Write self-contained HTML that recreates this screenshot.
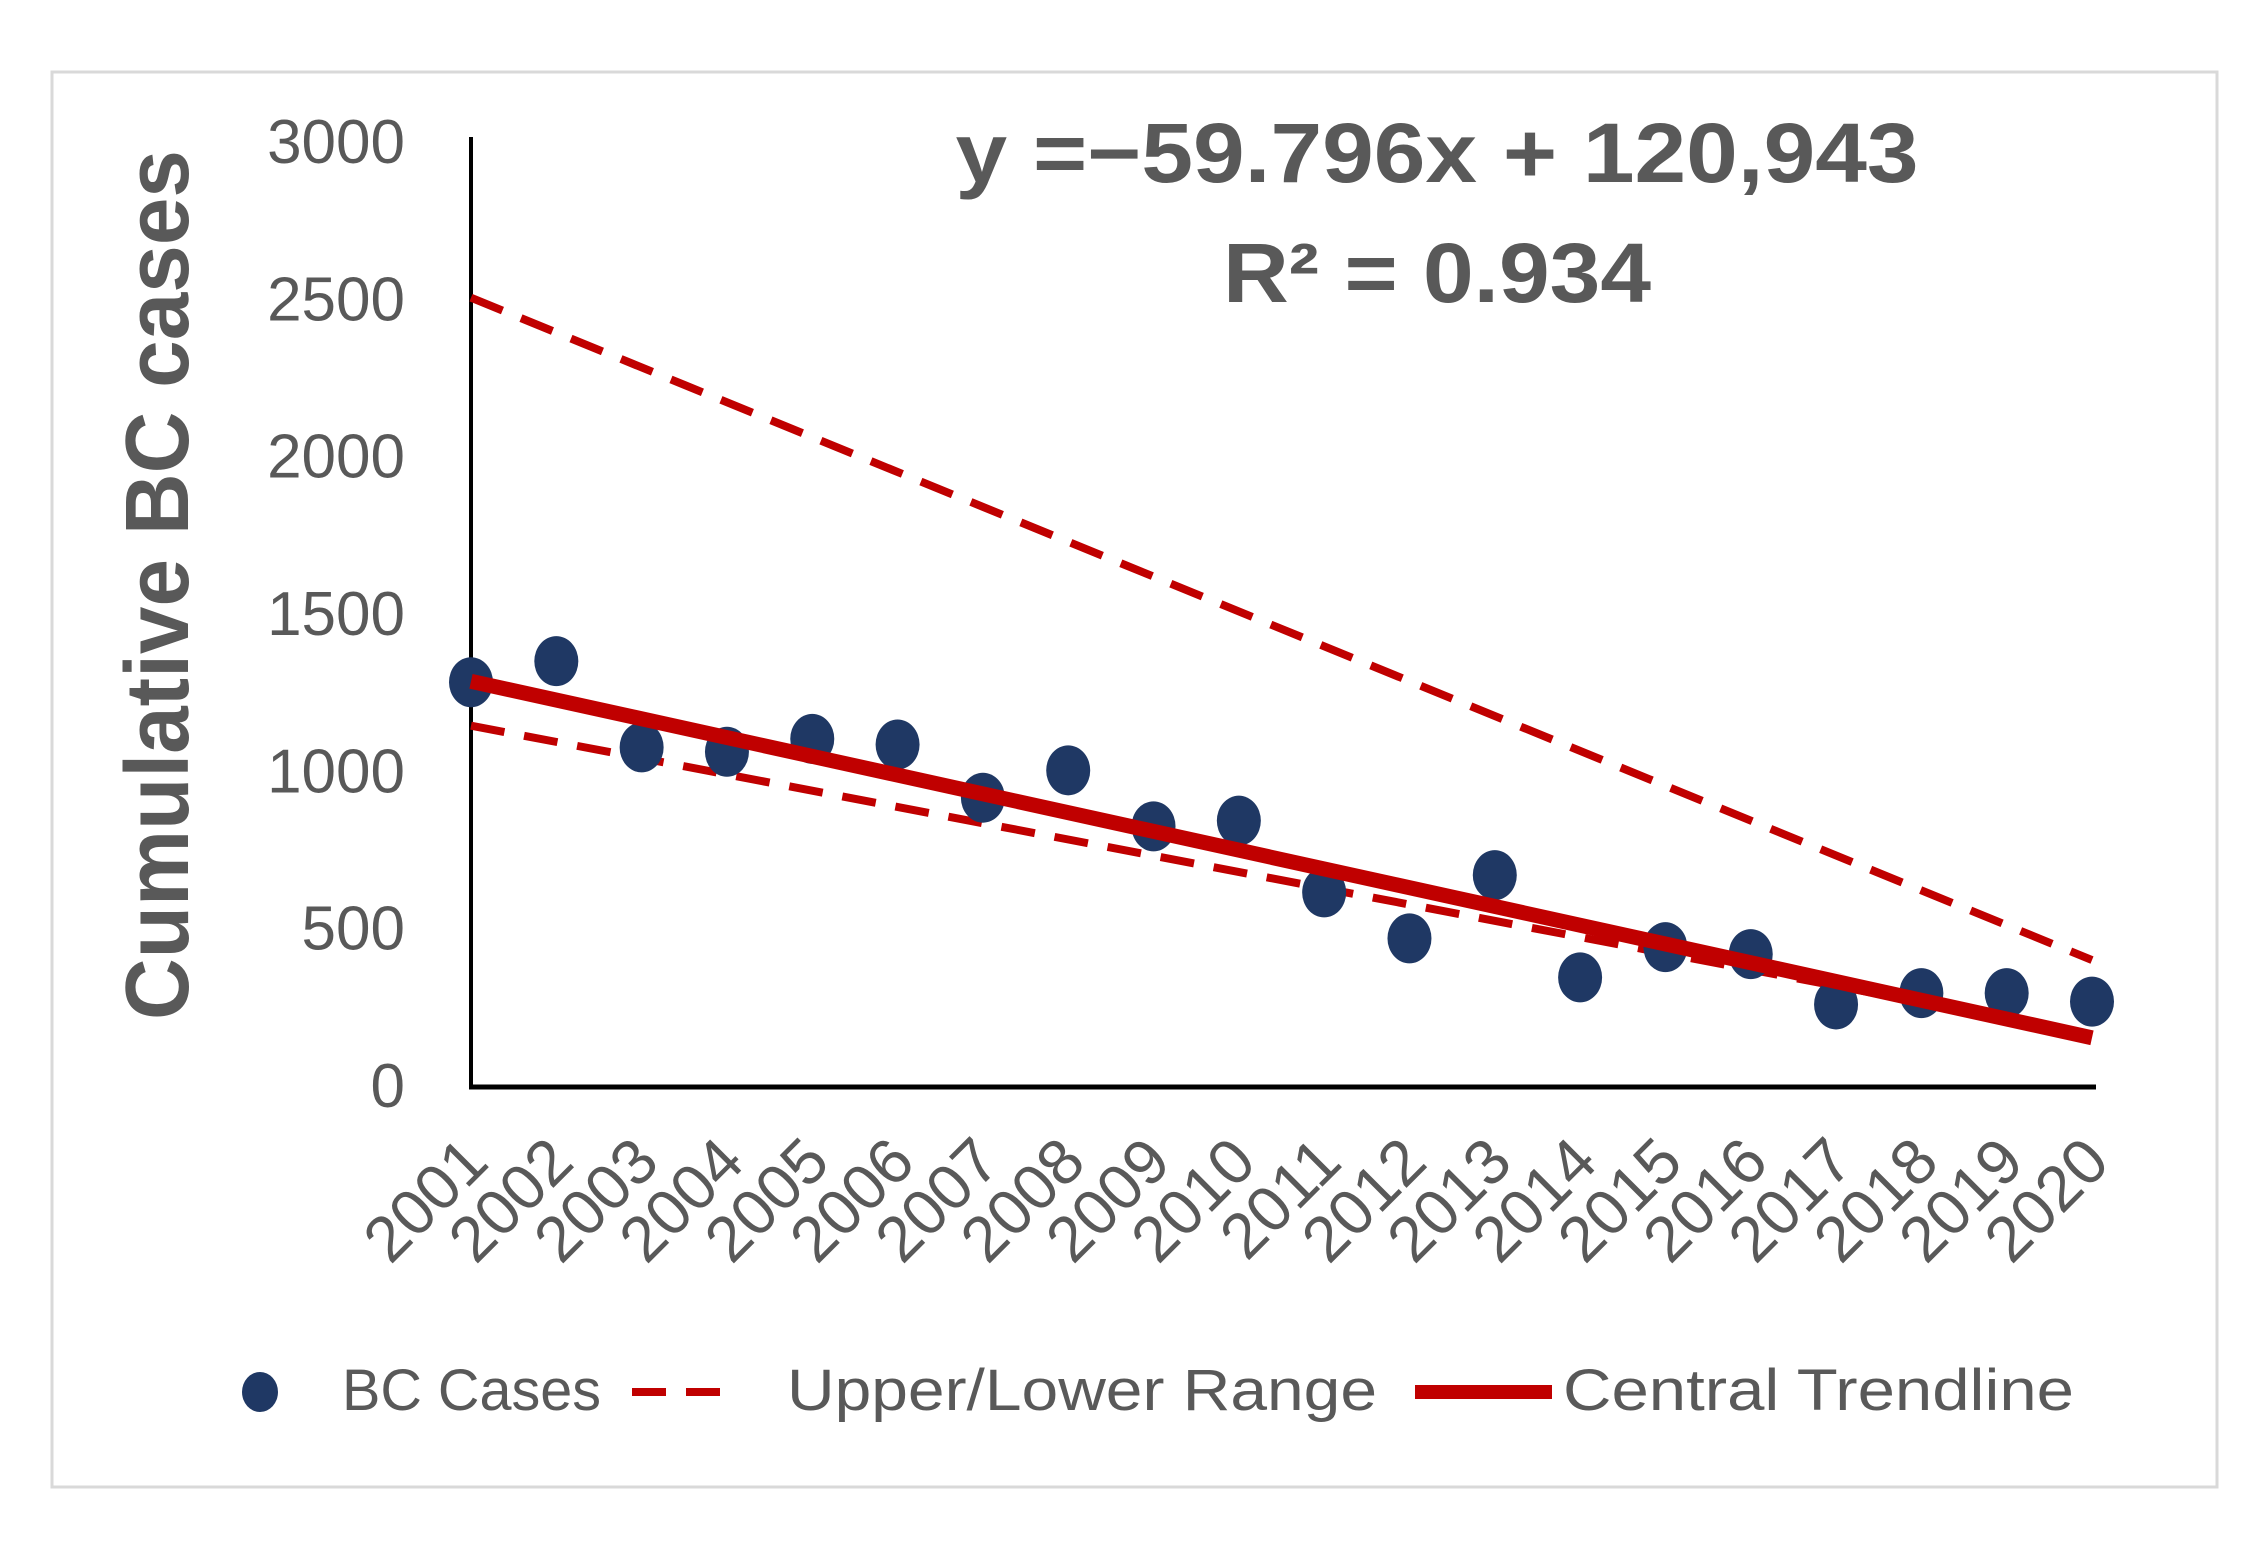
<!DOCTYPE html>
<html><head><meta charset="utf-8"><style>
html,body{margin:0;padding:0;background:#fff;}
svg{display:block;}
text{font-family:"Liberation Sans",sans-serif;}
</style></head><body>
<svg id="chart" width="2253" height="1544" viewBox="0 0 2253 1544">
<rect x="52" y="72" width="2165" height="1415" fill="#fff" stroke="#d9d9d9" stroke-width="3"/>
<text x="188" y="585" transform="rotate(-90 188 585)" text-anchor="middle" font-size="90" font-weight="bold" fill="#595959" textLength="870" lengthAdjust="spacingAndGlyphs">Cumulative BC cases</text>
<text x="1437" y="182" text-anchor="middle" font-size="84" font-weight="bold" fill="#595959" textLength="963" lengthAdjust="spacingAndGlyphs">y =−59.796x + 120,943</text>
<text x="1437" y="302" text-anchor="middle" font-size="84" font-weight="bold" fill="#595959" textLength="428" lengthAdjust="spacingAndGlyphs">R² = 0.934</text>
<g id="axes"></g>
<g id="series"></g>
<g>
<ellipse cx="260" cy="1392" rx="18" ry="20" fill="#1f3864"/>
<text x="342" y="1410" font-size="58" fill="#595959" textLength="259" lengthAdjust="spacingAndGlyphs">BC Cases</text>
<line x1="632" y1="1392" x2="740" y2="1392" stroke="#c00000" stroke-width="8" stroke-dasharray="34 20"/>
<text x="787" y="1410" font-size="58" fill="#595959" textLength="590" lengthAdjust="spacingAndGlyphs">Upper/Lower Range</text>
<line x1="1415" y1="1392" x2="1552" y2="1392" stroke="#c00000" stroke-width="14"/>
<text x="1563" y="1410" font-size="58" fill="#595959" textLength="511" lengthAdjust="spacingAndGlyphs">Central Trendline</text>
</g>
</svg>
<script>
const years = ["2001","2002","2003","2004","2005","2006","2007","2008","2009","2010","2011","2012","2013","2014","2015","2016","2017","2018","2019","2020"];
const bcCases = [1280,1347,1073,1059,1100,1082,913,1000,822,840,612,466,667,342,438,416,256,292,292,265];
const trendEnds = [1283,150];
const upperEnds = [2502,397];
const lowerEnds = [1142,160];
const yTicks = [0,500,1000,1500,2000,2500,3000];

const NS="http://www.w3.org/2000/svg";
const X0=471, XSTEP=(2092-471)/19, Y0=1085, YS=(1085-141)/3000;
function xs(i){return X0+i*XSTEP;}
function ys(v){return Y0-v*YS;}
function mk(tag,attrs,parent){const e=document.createElementNS(NS,tag);for(const k in attrs)e.setAttribute(k,attrs[k]);parent.appendChild(e);return e;}
const axes=document.getElementById('axes'), series=document.getElementById('series');

yTicks.forEach(v=>{
  const t=mk('text',{x:405,y:ys(v)+22,'text-anchor':'end','font-size':62,fill:'#595959'},axes);
  
  
  t.textContent=v;
});
years.forEach((yr,i)=>{
  const x=xs(i)+20, y=1165;
  const t=mk('text',{x:x,y:y,'text-anchor':'end','font-size':64,fill:'#595959',transform:`rotate(-45 ${x} ${y})`},axes);
  
  
  t.textContent=yr;
});
const ya=mk('line',{x1:X0,y1:ys(3000)-4,x2:X0,y2:Y0+2,stroke:'#000','stroke-width':4},axes);


const xa=mk('line',{x1:X0-2,y1:Y0+2,x2:xs(19)+4,y2:Y0+2,stroke:'#000','stroke-width':5},axes);



const up=mk('line',{x1:xs(0),y1:ys(upperEnds[0]),x2:xs(19),y2:ys(upperEnds[1]),stroke:'#c00000','stroke-width':8,'stroke-dasharray':'34 20'},series);


const lo=mk('line',{x1:xs(0),y1:ys(lowerEnds[0]),x2:xs(19),y2:ys(lowerEnds[1]),stroke:'#c00000','stroke-width':8,'stroke-dasharray':'34 20'},series);


bcCases.forEach((v,i)=>{
  const c=mk('ellipse',{cx:xs(i),cy:ys(v),rx:22,ry:25,fill:'#1f3864'},series);
  
  
});
const tr=mk('line',{x1:xs(0),y1:ys(trendEnds[0]),x2:xs(19),y2:ys(trendEnds[1]),stroke:'#c00000','stroke-width':15},series);


</script>
</body></html>
